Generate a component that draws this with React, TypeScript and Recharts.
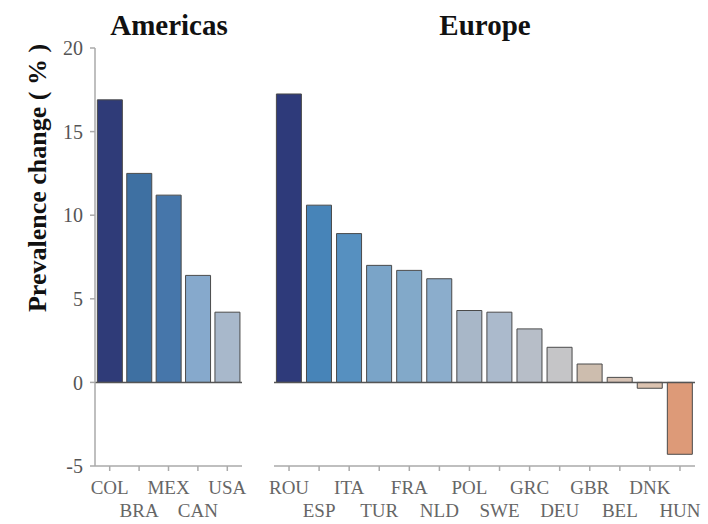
import { BarChart, Bar, XAxis, YAxis, Cell, ReferenceLine } from 'recharts';

const americasCountries = ['COL', 'BRA', 'MEX', 'CAN', 'USA'];
const americasValues = [16.9, 12.5, 11.2, 6.4, 4.2];
const americasColors = ['#2f3b78', '#3e70a2', '#4676aa', '#86a9cc', '#a8b8cb'];

const europeCountries = ['ROU', 'ESP', 'ITA', 'TUR', 'FRA', 'NLD', 'POL', 'SWE', 'GRC', 'DEU', 'GBR', 'BEL', 'DNK', 'HUN'];
const europeValues = [17.25, 10.6, 8.9, 7.0, 6.7, 6.2, 4.3, 4.2, 3.2, 2.1, 1.1, 0.3, -0.35, -4.3];
const europeColors = [
  '#2e3a7a', '#4784b8', '#5690c0', '#7aa4c8', '#82a9c9', '#8badcc', '#a8b7c8',
  '#abbacc', '#b7bec8', '#c5c5c7', '#cdbdae', '#d6c2b4', '#dcc3b0', '#dd9a78',
];

const yTicks = [-5, 0, 5, 10, 15, 20];

const americasData = americasCountries.map((name, i) => ({ name, value: americasValues[i] }));
const europeData = europeCountries.map((name, i) => ({ name, value: europeValues[i] }));

const serif = '"Liberation Serif", "DejaVu Serif", serif';

function StaggerTick(props: any) {
  const { x, y, payload, index } = props;
  return (
    <text x={x} y={y + (index % 2 ? 44 : 21)} textAnchor="middle" fill="#666" fontSize={19} fontFamily={serif}>
      {payload.value}
    </text>
  );
}

function Panel({ data, colors, width, left, marginLeft, marginRight, showY }: any) {
  return (
    <div style={{ position: 'absolute', left, top: 0 }}>
      <BarChart
        width={width}
        height={524}
        data={data}
        barCategoryGap="8%"
        margin={{ top: 48, right: marginRight, bottom: 0, left: marginLeft }}
      >
        <XAxis
          dataKey="name"
          height={58}
          interval={0}
          stroke="#aaa"
          strokeWidth={1.5}
          tickSize={5}
          tick={<StaggerTick />}
        />
        <YAxis
          hide={!showY}
          width={95}
          domain={[-5, 20]}
          ticks={yTicks}
          stroke="#aaa"
          strokeWidth={1.5}
          tickSize={5}
          tickMargin={7}
          tick={{ fill: '#555', fontSize: 20, fontFamily: serif }}
          label={
            showY
              ? {
                  content: () => (
                    <text
                      x={46}
                      y={178}
                      transform="rotate(-90 46 178)"
                      textAnchor="middle"
                      fontSize={26}
                      fontWeight="bold"
                      fontFamily={serif}
                      fill="#111"
                    >
                      Prevalence change ( % )
                    </text>
                  ),
                }
              : undefined
          }
        />
        <Bar dataKey="value" stroke="#4a4a4a" strokeWidth={1} isAnimationActive={false}>
          {data.map((d: any, i: number) => (
            <Cell key={d.name} fill={colors[i]} />
          ))}
        </Bar>
        <ReferenceLine y={0} stroke="#555" strokeWidth={1.5} />
      </BarChart>
    </div>
  );
}

export default function App() {
  return (
    <div style={{ position: 'absolute', left: 0, top: 0, width: 708, height: 524, background: '#fff' }}>
      <Panel data={americasData} colors={americasColors} width={250} left={0} marginLeft={0} marginRight={8} showY />
      <Panel data={europeData} colors={europeColors} width={448} left={260} marginLeft={14} marginRight={13} showY={false} />
      <svg width={708} height={60} style={{ position: 'absolute', left: 0, top: 0, pointerEvents: 'none' }}>
        <text x={169} y={35} textAnchor="middle" fontSize={29} fontWeight="bold" fontFamily={serif} fill="#111">
          Americas
        </text>
        <text x={485} y={35} textAnchor="middle" fontSize={29} fontWeight="bold" fontFamily={serif} fill="#111">
          Europe
        </text>
      </svg>
    </div>
  );
}
